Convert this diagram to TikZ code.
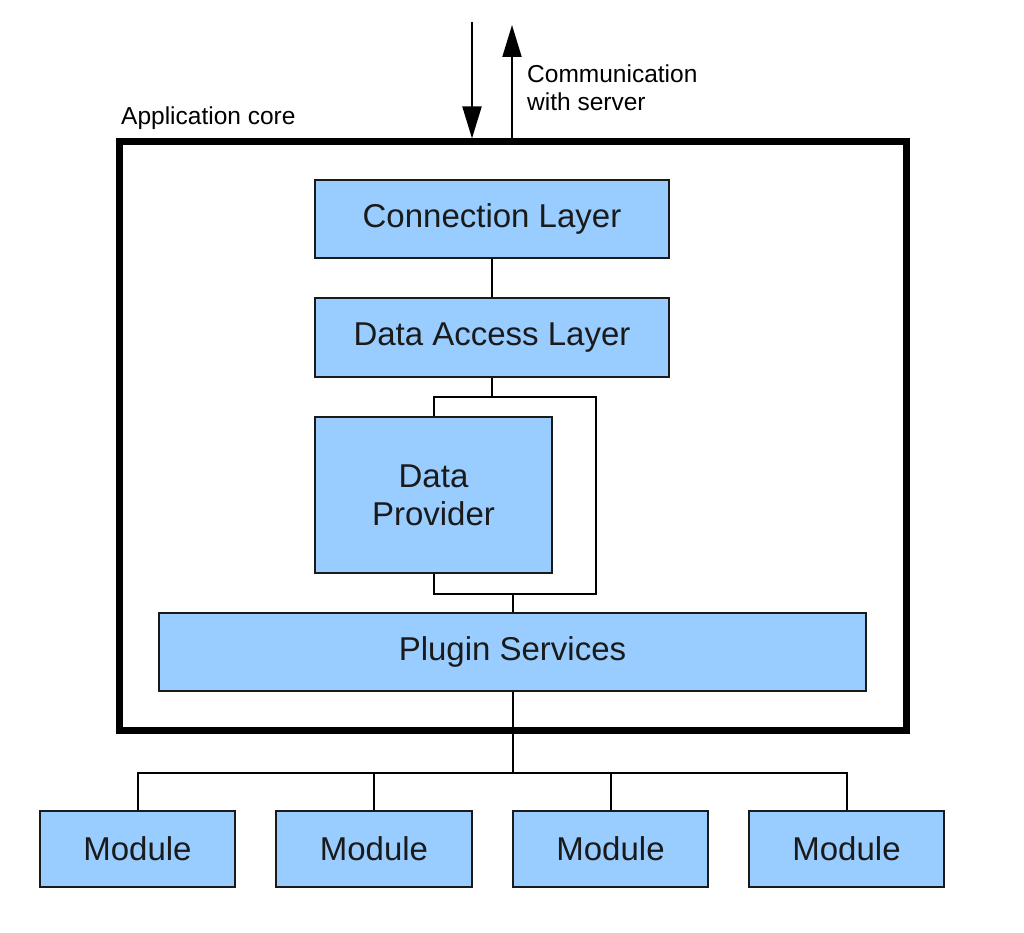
\documentclass[tikz,border=0pt]{standalone}
\usepackage{fontspec}
\setmainfont{Liberation Sans}
\usetikzlibrary{arrows.meta}
\definecolor{boxblue}{HTML}{99CCFF}
\definecolor{ink}{HTML}{1A1A1A}
\begin{document}
\begin{tikzpicture}[x=1pt,y=-1pt,
  blk/.style={draw=ink, line width=2pt, fill=boxblue, inner sep=0pt, text=ink,
    font=\fontsize{33}{38}\selectfont, align=center},
  wire/.style={draw=black, line width=2pt},
  frame/.style={draw=black, line width=7pt, inner sep=0pt},
  lbl/.style={inner sep=0pt, text=black, font=\fontsize{24.5}{28}\selectfont, align=left},
  flow/.style={line width=2pt, -{Triangle[length=32pt,width=19pt]}}
]
\useasboundingbox (0,0) rectangle (1024,933);
% outer frame
\node[frame, minimum width=787pt, minimum height=588pt] (core) at (512.5,436) {};
\node[lbl, anchor=base west] (corelbl) at (121,125) {Application core};
% boxes
\node[blk, minimum width=354pt, minimum height=78pt] (cl) at (492,219) {Connection Layer};
\node[blk, minimum width=354pt, minimum height=79pt] (dal) at (492,337.5) {Data Access Layer};
\node[blk, minimum width=237pt, minimum height=156pt] (dp) at (433.5,495) {Data\\Provider};
\node[blk, minimum width=707pt, minimum height=78pt] (ps) at (512.5,652) {Plugin Services};
\node[blk, minimum width=195pt, minimum height=76pt] (m1) at (137.5,849) {Module};
\node[blk, minimum width=196pt, minimum height=76pt] (m2) at (374,849) {Module};
\node[blk, minimum width=195pt, minimum height=76pt] (m3) at (610.5,849) {Module};
\node[blk, minimum width=195pt, minimum height=76pt] (m4) at (846.5,849) {Module};
% connectors
\draw[wire] (cl.south) -- (dal.north);
\coordinate (btl) at (433.5,397);
\coordinate (btr) at (596,397);
\coordinate (bbr) at (596,594);
\coordinate (bbl) at (433.5,594);
\draw[wire] (dal.south) -- (dal.south |- btl);
\draw[wire] (dp.north) -- (btl) -- (btr) -- (bbr) -- (bbl) -- (dp.south);
\coordinate (bj) at (512.5,594);
\draw[wire] (bj) -- (ps.north);
\coordinate (bus) at (512.5,773);
\draw[wire] (ps.south) -- (bus);
\draw[wire] (m1.north) -- (m1.north |- bus) -- (m4.north |- bus) -- (m4.north);
\draw[wire] (m2.north) -- (m2.north |- bus);
\draw[wire] (m3.north) -- (m3.north |- bus);
% communication arrows
\coordinate (dtop) at (472,22);
\coordinate (utop) at (512,25);
\draw[flow] (dtop) -- (core.north -| dtop);
\draw[flow] (core.north -| utop) -- (utop);
\node[lbl, anchor=base west] (comm) at (527,111) {Communication\\with server};
\end{tikzpicture}
\end{document}
